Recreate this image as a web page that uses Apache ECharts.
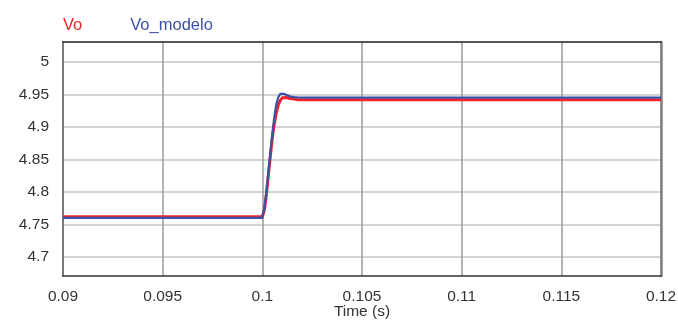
<!DOCTYPE html>
<html>
<head>
<meta charset="utf-8">
<script src="https://cdn.jsdelivr.net/npm/echarts@6/dist/echarts.min.js"></script>
<style>html,body{margin:0;padding:0;background:#fff}#c{width:678px;height:320px}</style>
</head>
<body>
<div id="c"></div>
<script>
// Time (s) and values
const timeVo = [0.09, 0.1, 0.1001, 0.1002, 0.1003, 0.1004, 0.1005, 0.1006, 0.1007, 0.1008, 0.1009, 0.101, 0.1011, 0.1012, 0.1014, 0.1016, 0.1018, 0.102, 0.12];
const valuesVo = [4.762, 4.762, 4.772, 4.795, 4.825, 4.855, 4.883, 4.905, 4.922, 4.934, 4.941, 4.945, 4.946, 4.9455, 4.944, 4.943, 4.942, 4.942, 4.942];
const timeModelo = [0.09, 0.1, 0.1001, 0.1002, 0.1003, 0.1004, 0.1005, 0.1006, 0.1007, 0.1008, 0.1009, 0.101, 0.1011, 0.1012, 0.1014, 0.1016, 0.1018, 0.102, 0.12];
const valuesModelo = [4.760, 4.760, 4.775, 4.80, 4.83, 4.86, 4.89, 4.915, 4.935, 4.946, 4.951, 4.952, 4.951, 4.949, 4.947, 4.946, 4.9455, 4.9453, 4.9453];
const xTicks = [0.09, 0.095, 0.1, 0.105, 0.11, 0.115, 0.12];
const yTicks = [4.7, 4.75, 4.8, 4.85, 4.9, 4.95, 5];
const seriesNames = ['Vo', 'Vo_modelo'];
const xName = 'Time (s)';

const RED = '#f0222c', BLUE = '#3a52a6';
const font = 'Arial, "Liberation Sans", sans-serif';
const chart = echarts.init(document.getElementById('c'), null, {renderer: 'canvas'});
const fmt = v => String(+(+v).toFixed(4));
chart.setOption({
  animation: false,
  backgroundColor: '#fff',
  legend: {
    left: 58, top: 17, icon: 'none', itemWidth: 0, itemHeight: 14, itemGap: 43,
    padding: 0,
    selectedMode: false,
    textStyle: {fontFamily: font, fontSize: 16.5},
    data: [
      {name: seriesNames[0], textStyle: {color: RED}},
      {name: seriesNames[1], textStyle: {color: BLUE}}
    ]
  },
  grid: {left: 63, top: 42, width: 598, height: 234, containLabel: false, outerBoundsMode: 'none'},
  xAxis: [{
    type: 'value', min: xTicks[0], max: xTicks[xTicks.length - 1],
    name: xName, nameLocation: 'middle', nameGap: 28, nameMoveOverlap: false,
    nameTextStyle: {fontFamily: font, fontSize: 15.5, color: '#333'},
    axisLine: {show: true, onZero: false, lineStyle: {color: '#333', width: 1.5}},
    axisTick: {show: false, customValues: xTicks},
    axisLabel: {customValues: xTicks, formatter: fmt, margin: 13, fontFamily: font, fontSize: 15.5, color: '#333'},
    splitLine: {show: true, lineStyle: {color: '#9a9a9a', width: 1.5}}
  }, {
    type: 'value', position: 'top', min: xTicks[0], max: xTicks[xTicks.length - 1],
    axisLine: {show: true, onZero: false, lineStyle: {color: '#222', width: 1.5}},
    axisTick: {show: false}, axisLabel: {show: false}, splitLine: {show: false}
  }],
  yAxis: [{
    type: 'value', min: 4.6706, max: 5.031,
    axisLine: {show: true, onZero: false, lineStyle: {color: '#7a7a7a', width: 2}},
    axisTick: {show: false, customValues: yTicks},
    axisLabel: {customValues: yTicks, formatter: fmt, margin: 14, fontFamily: font, fontSize: 15.5, color: '#333'},
    splitLine: {show: true, lineStyle: {color: '#c4c4c4', width: 1.5}}
  }, {
    type: 'value', position: 'right', min: 4.6706, max: 5.031,
    axisLine: {show: true, onZero: false, lineStyle: {color: '#808080', width: 2.5}},
    axisTick: {show: false}, axisLabel: {show: false}, splitLine: {show: false}
  }],
  series: [{
    name: seriesNames[0], type: 'line', showSymbol: false, z: 2,
    lineStyle: {color: RED, width: 3}, itemStyle: {color: RED},
    data: timeVo.map((t, i) => [t, valuesVo[i]])
  }, {
    name: seriesNames[1], type: 'line', showSymbol: false, z: 3,
    lineStyle: {color: BLUE, width: 2.2}, itemStyle: {color: BLUE},
    data: timeModelo.map((t, i) => [t, valuesModelo[i]])
  }]
});
</script>
</body>
</html>
